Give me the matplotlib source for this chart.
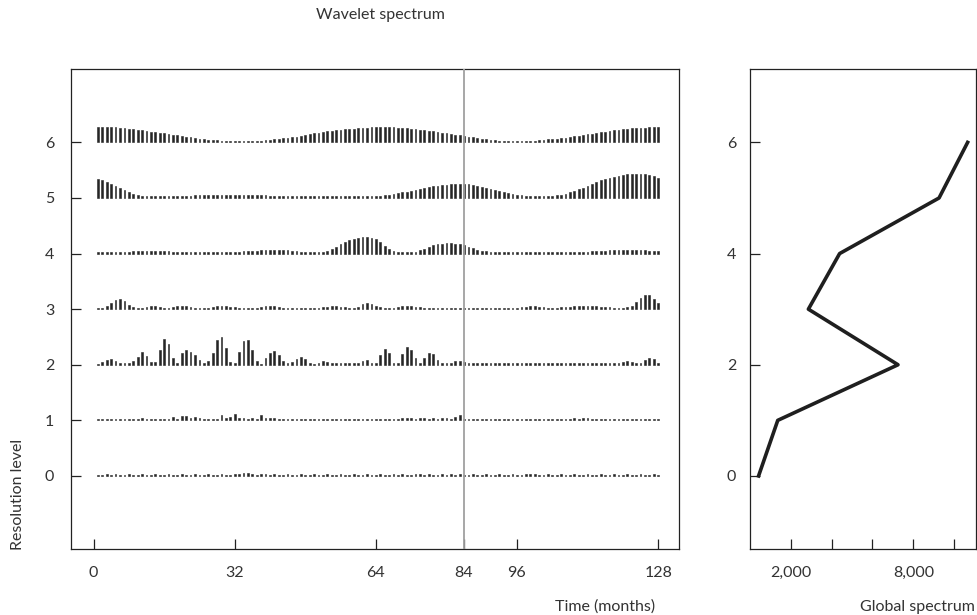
import numpy as np
import matplotlib.pyplot as plt

plt.rcParams.update({
    "font.family": ["Lato", "DejaVu Sans"],
    "font.size": 11.5,
    "text.color": "#333333",
    "axes.edgecolor": "#222222",
    "axes.linewidth": 0.9,
    "xtick.color": "#222222",
    "ytick.color": "#222222",
    "xtick.labelcolor": "#333333",
    "ytick.labelcolor": "#333333",
})

BAR_COLOR = "#262626"
LINE_GRAY = "#a0a0a0"

# time axis: one wavelet coefficient per month
months = np.arange(1, 129)
levels = [0, 1, 2, 3, 4, 5, 6]

# coefficient amplitudes per resolution level
level0 = [1.3, 1.3, 1.5, 1.3, 1.5, 1.3, 1.3, 1.5, 1.3, 1.3,
          1.5, 1.3, 1.3, 1.5, 1.3, 1.3, 1.5, 1.3, 1.3, 1.5,
          1.3, 1.3, 1.5, 1.3, 1.3, 1.5, 1.3, 1.3, 1.5, 1.3,
          1.3, 1.5, 1.5, 2.7, 2.7, 1.5, 1.3, 2.0, 1.5, 1.3,
          1.5, 1.3, 1.3, 1.5, 1.3, 1.3, 1.5, 1.3, 1.3, 1.5,
          1.3, 1.3, 1.5, 1.3, 1.3, 1.5, 1.3, 1.3, 1.5, 1.3,
          1.3, 1.5, 1.3, 1.3, 1.5, 1.3, 1.3, 1.5, 1.3, 1.5,
          1.3, 1.3, 1.5, 1.5, 1.3, 1.5, 1.3, 1.3, 1.5, 1.3,
          1.5, 1.3, 1.5, 1.3, 1.3, 1.5, 1.3, 1.3, 1.5, 1.3,
          1.3, 1.5, 1.3, 1.3, 1.5, 1.3, 1.3, 1.5, 2.3, 1.5,
          1.3, 1.3, 1.5, 1.3, 1.3, 1.5, 1.3, 1.3, 1.5, 1.3,
          1.3, 1.5, 1.3, 1.3, 1.5, 1.3, 1.3, 1.5, 1.3, 1.3,
          1.5, 1.3, 1.3, 1.5, 1.3, 1.3, 1.5, 1.3]
level1 = [1.3, 1.3, 1.3, 1.5, 1.3, 1.3, 1.5, 1.3, 1.3, 1.5,
          2.0, 1.3, 1.3, 1.5, 1.3, 1.5, 1.3, 3.0, 1.7, 4.0,
          4.3, 2.0, 3.0, 2.7, 1.5, 1.3, 1.5, 1.5, 5.7, 2.7,
          3.7, 6.3, 2.0, 2.7, 1.7, 2.7, 1.5, 5.3, 2.7, 2.0,
          2.7, 1.5, 1.3, 1.5, 1.3, 1.5, 1.5, 1.3, 1.5, 1.3,
          1.5, 1.3, 1.5, 1.3, 1.3, 1.5, 1.3, 1.5, 1.3, 1.5,
          1.3, 1.5, 1.3, 1.5, 1.5, 1.3, 1.5, 1.3, 1.5, 2.0,
          2.5, 2.0, 1.5, 2.3, 2.5, 1.5, 2.3, 1.5, 2.5, 2.3,
          1.5, 3.0, 5.0, 1.5, 1.3, 1.5, 1.3, 1.5, 1.3, 1.5,
          1.3, 1.5, 1.3, 1.5, 1.3, 1.5, 1.3, 1.5, 1.3, 1.5,
          1.3, 1.5, 1.3, 1.5, 1.3, 1.5, 1.5, 1.3, 2.5, 1.5,
          2.3, 2.5, 1.5, 1.3, 1.5, 1.3, 1.5, 1.3, 1.5, 1.3,
          1.5, 1.3, 1.5, 1.3, 1.5, 1.3, 1.5, 1.3]
level2 = [1.0, 3.0, 4.7, 5.3, 3.7, 1.5, 1.5, 2.0, 3.3, 8.0, 12.3, 9.0, 2.3, 2.3,
          14.7, 25.3, 20.3, 6.3, 1.5, 11.3, 14.7, 13.0, 9.7, 4.7, 2.0, 4.0, 11.3, 24.7,
          28.0, 17.0, 3.0, 1.5, 12.3, 24.0, 24.7, 14.7, 3.7, 1.0, 6.3, 11.3, 13.7, 9.7,
          4.0, 1.5, 3.0, 5.7, 7.3, 5.3, 1.5, 1.0, 2.0, 3.7, 3.0, 1.5, 1.5, 1.5,
          1.5, 1.5, 1.5, 2.0, 4.0, 4.7, 2.0, 1.5, 9.7, 15.3, 11.3, 1.5, 1.5, 10.7,
          17.3, 14.7, 6.3, 1.5, 6.3, 11.3, 10.3, 4.7, 1.5, 1.5, 2.0, 3.7, 4.0, 2.5,
          1.5, 1.5, 1.5, 1.5, 1.5, 1.5, 1.5, 1.5, 1.5, 1.5, 2.0, 1.5, 1.5, 1.5, 1.5, 1.5,
          1.5, 1.5, 2.0, 1.5, 1.5, 1.5, 1.5, 1.5, 1.5, 1.5, 1.5, 1.5, 1.5, 1.5, 1.5, 1.5, 1.5, 1.5,
          1.5, 2.5, 3.5, 3.0, 1.5, 1.5, 4.5, 6.3, 5.5, 2.0]
level3 = [1.5, 1.5, 3.0, 6.3, 9.0, 10.0, 8.3, 4.0,
          2.0, 1.5, 1.5, 2.5, 2.8, 2.8, 2.0, 1.5, 1.5, 2.0, 2.8, 3.0,
          3.0, 2.5, 1.5, 1.5, 1.5, 1.5, 2.0, 2.8, 3.0, 3.0,
          2.5, 1.8, 1.5, 1.5, 1.5, 1.5, 1.5, 2.0, 2.8, 3.0,
          2.8, 2.0, 1.5, 1.5, 1.5, 1.5, 1.5, 1.5, 1.5, 1.5,
          1.5, 1.8, 2.5, 2.8, 2.8, 2.5, 1.8, 1.5, 1.5, 2.3,
          4.7, 5.7, 5.0, 3.0,
          1.8, 1.5, 1.5, 1.5, 2.0, 2.8, 3.0, 3.0, 2.5, 1.8, 1.5, 1.5, 1.5, 1.5, 1.5, 1.5,
          1.5, 1.5, 1.5, 1.5, 1.5, 1.5, 1.5, 1.5, 1.5, 1.5, 1.5, 1.5, 1.5, 1.5, 1.5, 1.5,
          2.0, 2.5, 2.8, 2.8, 2.5, 2.0, 1.5, 1.5, 1.5, 1.8,
          2.3, 2.5, 2.8, 2.8, 2.8, 2.8, 2.8, 2.8, 2.5, 2.3, 2.0, 1.5, 1.5, 1.5, 1.8,
          3.0, 7.5, 11.5, 13.7, 13.7, 10.5, 5.7]
level4 = [1.5, 1.5, 1.5, 1.8, 1.8, 2.0, 2.0, 2.0, 2.3,
          2.7, 3.0, 3.0, 3.0, 3.0, 2.8, 2.7, 2.3,
          2.0, 1.8, 1.8, 1.6, 1.5, 1.5, 1.5, 1.5, 1.5, 1.6, 1.6, 1.8, 1.8, 2.0,
          2.0, 2.0, 2.2, 2.3, 2.6,
          3.0, 3.5, 3.8, 4.0, 4.0, 4.0, 3.8, 3.5, 3.0, 2.5,
          1.8, 1.5, 1.5, 1.5, 1.5, 1.5,
          2.5, 4.5, 7.0, 9.5, 11.5, 13.5, 15.0, 16.0, 16.7, 16.7, 16.0, 14.5, 11.5,
          8.0, 5.0, 3.0, 2.0,
          1.5, 1.5, 1.5, 2.0, 3.3, 5.0, 6.8, 8.3, 9.3, 10.0, 10.2, 10.2, 10.0, 9.3,
          8.2, 6.8, 5.2, 4.0, 3.0, 2.3, 1.8,
          1.5, 1.5, 1.5, 1.5, 1.5, 1.5, 1.5, 1.5, 1.5, 1.5, 1.5, 1.5,
          1.5, 1.5, 1.5, 1.5, 1.5, 1.5, 1.6, 1.7, 1.8, 2.0, 2.2, 2.5,
          2.8, 3.0, 3.2, 3.3, 3.5, 3.6, 3.6, 3.6, 3.5, 3.4, 3.2, 3.0, 2.8, 2.5]
level5 = [19.0, 17.5, 15.5, 13.5, 11.5, 9.5, 7.5, 5.5, 4.0, 3.0, 2.3, 2.0,
          1.8, 1.6, 1.5, 1.5, 1.5, 1.6, 1.8, 2.0,
          2.2, 2.4, 2.6, 2.8, 3.0, 3.0, 3.1, 3.1, 3.1, 3.1,
          3.1, 3.1, 3.0, 3.0, 2.9, 2.8, 2.7, 2.6, 2.5, 2.4,
          2.3, 2.2, 2.1, 2.0, 1.9, 1.8, 1.7, 1.6, 1.5, 1.5,
          1.5, 1.5, 1.5, 1.5, 1.5, 1.5, 1.5, 1.5, 1.5, 1.5,
          1.6, 1.7, 1.8, 2.0, 2.3, 2.7,
          3.2, 3.8, 4.6, 5.5, 6.3, 7.2, 8.2, 9.2, 10.1, 10.9, 11.6, 12.3, 12.9,
          13.4, 13.8, 14.1, 14.3, 14.3, 14.2,
          13.4, 12.4, 11.0, 9.9, 8.9, 7.9, 7.0, 6.0, 5.0, 4.1, 3.3, 2.6, 2.1,
          1.8, 1.6, 1.5, 1.5, 1.6, 1.9,
          2.5, 3.3, 4.3, 5.6, 7.0, 8.5, 10.0, 12.0, 14.0, 16.0, 17.7, 19.0,
          20.2, 21.2, 22.0, 22.8, 23.5, 24.0, 24.3, 24.3, 23.8, 22.9, 21.6, 20.3]
level6 = [15.3, 15.3, 15.2, 15.0, 15.0, 14.7, 14.3, 13.8, 13.3, 12.8, 12.2, 11.5, 10.8, 10.2,
          9.6, 9.0, 8.4, 7.8, 7.2, 6.5, 5.8, 5.1, 4.4, 3.8,
          3.2, 2.7, 2.2, 1.9, 1.6, 1.5,
          1.5, 1.5, 1.5, 1.5, 1.5, 1.5, 1.6, 1.8,
          2.1, 2.5, 2.9, 3.4, 3.9, 4.4, 5.0,
          5.7, 6.5, 7.3, 8.1, 8.9, 9.7,
          10.4, 11.0, 11.6, 12.1, 12.6, 13.0, 13.4, 13.8,
          14.2, 14.5, 14.8, 15.0, 15.1, 15.2, 15.2, 15.1, 15.0,
          14.8, 14.5, 14.2, 13.8, 13.3, 12.8, 12.3, 11.7,
          11.0, 10.3, 9.6, 8.9, 8.2, 7.5, 6.9, 6.3,
          5.6, 4.9, 4.2, 3.5, 2.9, 2.4, 2.0,
          1.7, 1.5, 1.5, 1.5, 1.5, 1.5, 1.5, 1.6, 1.8,
          2.1, 2.5, 2.9, 3.3, 3.7, 4.1, 4.5,
          5.2, 5.9, 6.6, 7.3, 8.0, 8.7, 9.4, 10.1,
          10.8, 11.5, 12.2, 12.8, 13.3, 13.7, 14.0,
          14.3, 14.6, 14.8, 15.0, 15.1, 15.2]
amplitudes = [level0, level1, level2, level3, level4, level5, level6]
AMP_PER_LEVEL = 55.6  # amplitude units that span one resolution level

event_month = 84
time_ticks = [0, 32, 64, 84, 96, 128]

global_levels = [0, 1, 2, 3, 4, 5, 6]
global_spectrum = [420, 1360, 7250, 2860, 4390, 9260, 10660]
global_ticks = [2000, 4000, 6000, 8000, 10000]
global_ticklabels = ["2,000", "", "", "8,000", ""]

fig = plt.figure(figsize=(9.77, 6.15), dpi=100)

# wavelet spectrum panel
ax = fig.add_axes([0.0727, 0.1068, 0.6226, 0.781])
for lvl, amp in zip(levels, amplitudes):
    ax.bar(months, np.array(amp) / AMP_PER_LEVEL, bottom=lvl, width=0.4,
           color=BAR_COLOR, edgecolor=BAR_COLOR, linewidth=0.4, zorder=2)
ax.axvline(event_month, color=LINE_GRAY, lw=1.3, zorder=3)
ax.set_xlim(-5.1, 132.8)
ax.set_ylim(-1.32, 7.32)
ax.set_xticks(time_ticks)
ax.set_yticks(levels)
ax.tick_params(direction="in", length=7, width=0.9, pad=12)

# global spectrum panel
ax2 = fig.add_axes([750 / 977, 0.1068, 226 / 977, 0.781])
ax2.plot(global_spectrum, global_levels, color="#1f1f1f", lw=2.6)
ax2.set_xlim(0, 11070)
ax2.set_ylim(-1.32, 7.32)
ax2.set_xticks(global_ticks)
ax2.set_xticklabels(global_ticklabels)
ax2.set_yticks([0, 2, 4, 6])
ax2.tick_params(axis="x", direction="in", length=7, width=0.9, pad=12)
ax2.tick_params(axis="y", direction="in", length=7, width=0.9, pad=10)

fig.text(380 / 977, 1 - 15 / 615, "Wavelet spectrum", ha="center", va="center")
fig.text(18 / 977, 1 - 550 / 615, "Resolution level", rotation=90, ha="center", va="bottom")
fig.text(655 / 977, 1 - 607 / 615, "Time (months)", ha="right", va="center")
fig.text(975 / 977, 1 - 607 / 615, "Global spectrum", ha="right", va="center")

fig.savefig("out.png", dpi=100, facecolor="white")
plt.close(fig)
